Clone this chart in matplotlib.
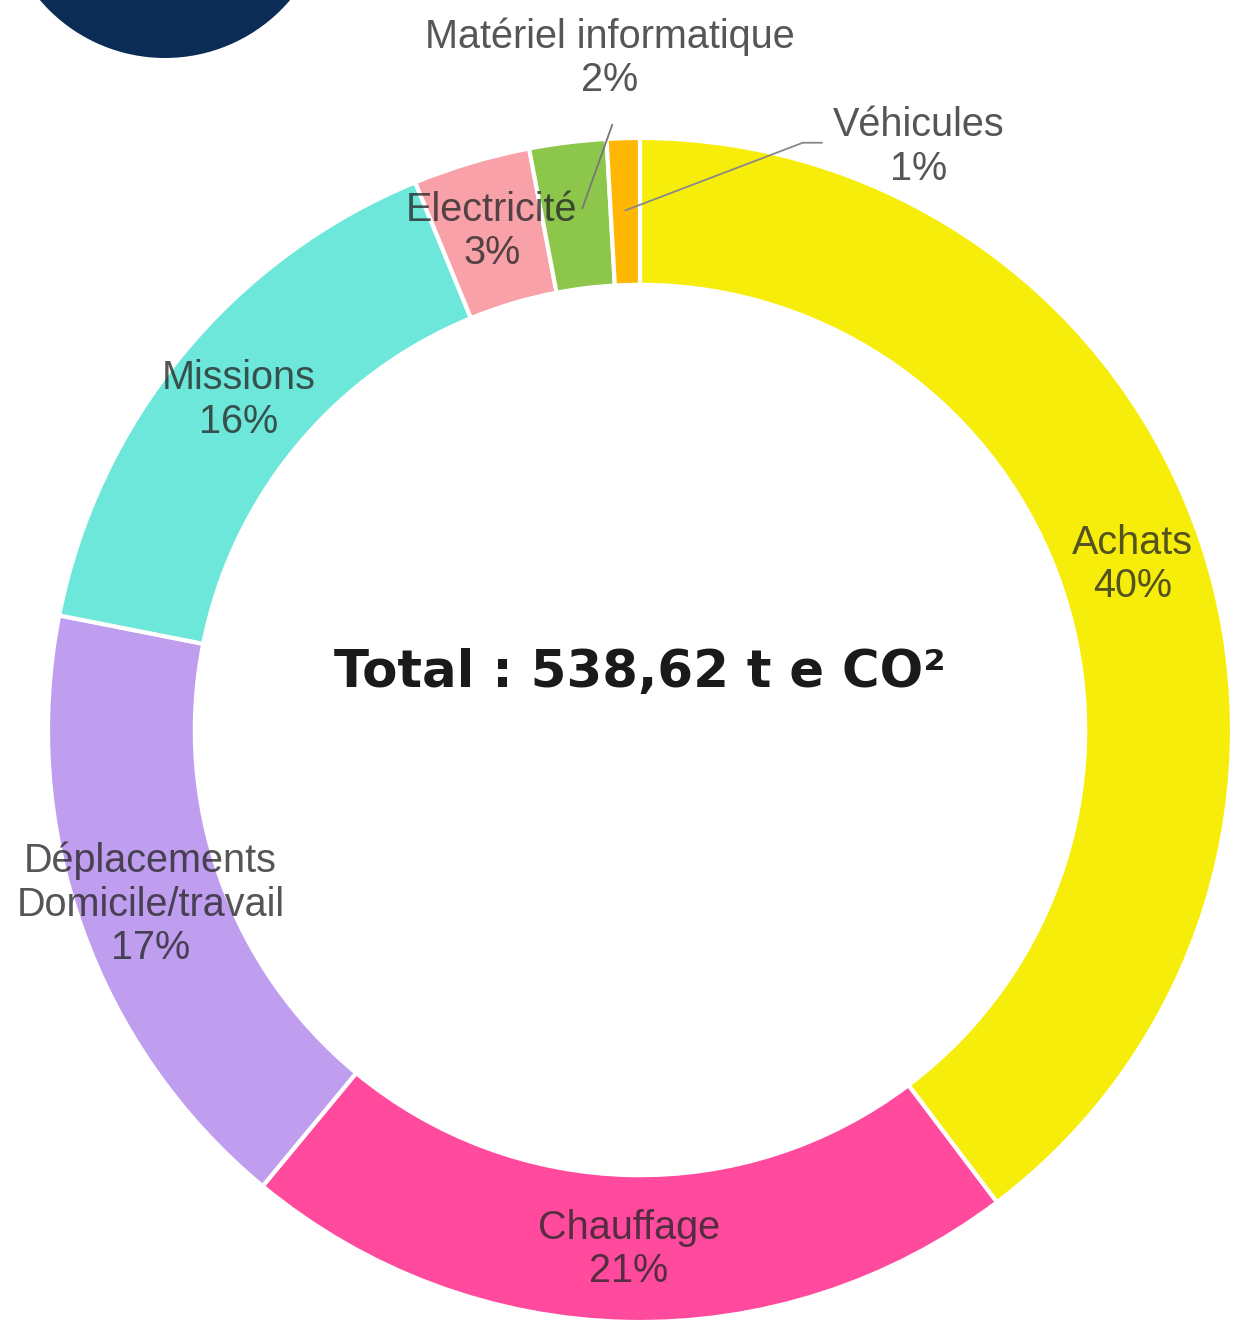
import numpy as np
import matplotlib.pyplot as plt
from matplotlib.patches import Circle

categories = ['Achats', 'Chauffage', 'Déplacements\nDomicile/travail', 'Missions',
              'Electricité', 'Matériel informatique', 'Véhicules']
shares = [39.7, 21.3, 17.1, 15.7, 3.2, 2.1, 0.9]
colors = ['#F6EE0A', '#FF4A9E', '#BF9DEF', '#6DE7DA', '#F8A1A9', '#8CC74C', '#FFB703']
total_text = 'Total : 538,62 t e CO²'

W, H = 1233, 1322
fig = plt.figure(figsize=(W / 100, H / 100), dpi=100)

# pie centre (640, 730) px, outer radius 592 px
cx, cy, R = 640, 730, 592
ax = fig.add_axes([(cx - R) / W, (H - cy - R) / H, 2 * R / W, 2 * R / H])
wedges, _ = ax.pie(shares, colors=colors, startangle=90, counterclock=False,
                   radius=1, wedgeprops=dict(width=0.248, edgecolor='white', linewidth=3))
ax.set_xlim(-1, 1)
ax.set_ylim(-1, 1)
ax.set_aspect('equal')
ax.axis('off')

txt_kw = dict(fontsize=28.5, color='#262626', alpha=0.78, ha='center', va='center',
              family='Liberation Sans', linespacing=1.18)

# mid angles (math convention, degrees)
cum = np.cumsum([0] + shares)
mids = 90 - 360 * (cum[:-1] + np.array(shares) / 2) / 100
r_lab = 0.878
for i, (cat, s) in enumerate(zip(categories, shares)):
    lab = f'{cat}\n{round(s)}%'
    a = np.deg2rad(mids[i])
    px, py = r_lab * np.cos(a), r_lab * np.sin(a)
    if cat == 'Matériel informatique':
        ax.text(-0.051, 1.135, lab, clip_on=False, **txt_kw)
        ax.plot([px + 0.01, -0.047], [py + 0.01, 1.022], color='#777777', lw=1.3, clip_on=False)
    elif cat == 'Véhicules':
        ax.text(0.47, 0.985, lab, clip_on=False, **txt_kw)
        ax.plot([px, 0.275, 0.307], [py, 0.992, 0.992], color='#888888', lw=1.3, clip_on=False)
    else:
        ax.text(px, py, lab, **txt_kw)

ax.text(0, (cy - 673) / R, total_text, fontsize=37, fontweight='bold', color='#1a1a1a',
        ha='center', va='center', family='DejaVu Sans')

# cropped logo in the top-left corner
logo = Circle((1.65, (H + 106) / 100), 1.64, transform=fig.dpi_scale_trans,
              facecolor='#0B2D55', edgecolor='none')
fig.patches.append(logo)

fig.savefig('out.png', dpi=100, facecolor='white')
